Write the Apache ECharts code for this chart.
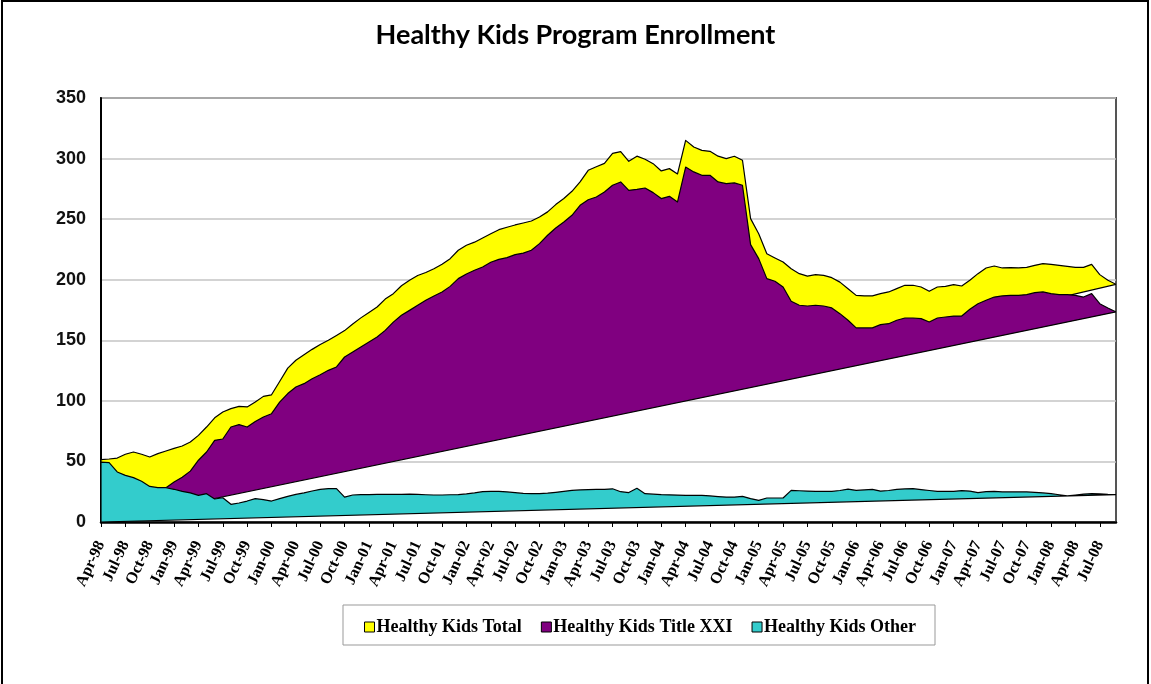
<!DOCTYPE html>
<html>
<head>
<meta charset="utf-8">
<script src="https://cdn.jsdelivr.net/npm/echarts@6/dist/echarts.min.js"></script>
<style>
  html, body { margin: 0; padding: 0; background: #fff; }
  #chart { width: 1151px; height: 684px; }
</style>
</head>
<body>
<div id="chart"></div>
<script>
// ---- Data (monthly, Apr-98 .. Sep-08), enrollment in thousands ----
const monthNames = ['Jan','Feb','Mar','Apr','May','Jun','Jul','Aug','Sep','Oct','Nov','Dec'];
const startYear = 1998, startMonth = 3, monthCount = 126;
const categories = [];
for (let k = 0; k < monthCount; k++) {
  const m = (startMonth + k) % 12;
  const y = startYear + Math.floor((startMonth + k) / 12);
  categories.push(monthNames[m] + '-' + String(y % 100).padStart(2, '0'));
}

const totalValues = [
  51.5, 52, 52.8, 55.9, 57.8, 55.9, 53.7, 56.4, 58.6, 60.8,
  62.7, 66, 71.5, 78.4, 86, 90.8, 93.6, 95.5, 95, 99,
  103.7, 105, 116, 127, 133.5, 138, 142.5, 146.5, 150, 154,
  158, 163.5, 168.5, 173, 177.5, 184, 188.5, 195, 199.5, 203.5,
  206, 209, 212.7, 217.4, 224.3, 228.4, 231, 234.5, 238, 241.3,
  243.3, 245.2, 246.8, 248.5, 251.8, 256, 262, 267, 273, 280.7,
  290.3, 293.3, 296, 304.3, 305.8, 297.7, 302, 299.4, 295.8, 289.8,
  291.7, 287.3, 315, 309.6, 306.8, 306, 302, 300, 301.9, 298.6,
  250.4, 238, 221.5, 218, 214.6, 209, 205, 203, 204.2, 203.6,
  201.7, 198, 192.6, 187.1, 186.6, 186.6, 188.5, 189.9, 192.6, 195.4,
  195.4, 194, 190.4, 194, 194.5, 196, 194.8, 199.5, 205, 209.7,
  211.3, 209.7, 210, 209.7, 210.2, 211.9, 213.3, 212.7, 211.9, 211,
  210.2, 210.2, 212.7, 204.2, 199.5, 196.2
];

const titleXXIValues = [
  3, 6, 9, 12, 15, 18, 22, 25, 28.3, 33,
  37, 42, 51, 57.8, 67.4, 68.5, 78.4, 80.4, 78.4, 83,
  86.7, 89.4, 99, 106, 111.4, 114.2, 118.3, 121.6, 125.2, 128,
  136.2, 140.3, 144.5, 148.6, 152.7, 158.2, 165, 170.6, 174.7, 178.9,
  183, 186.6, 189.9, 194.5, 200.9, 204.7, 207.8, 210.5, 214.4, 216.8,
  218.2, 220.7, 222, 224.3, 229.8, 236.7, 242.7, 247.7, 253.2, 261.4,
  266, 268.3, 272.4, 278, 280.7, 273.8, 274.6, 275.7, 271.9, 267,
  268.8, 264.2, 293, 289, 286.2, 286.2, 280.7, 279.3, 279.9, 278,
  229, 217.4, 200.9, 198.7, 194, 182.2, 178.9, 178.3, 178.9, 178.3,
  176.7, 172, 166.5, 160.2, 160.2, 160.2, 162.9, 163.7, 166.5, 168.4,
  168.4, 167.9, 165.1, 168.4, 169.2, 170, 170, 175.6, 180.2, 183,
  185.7, 186.6, 187.1, 187.1, 187.7, 189.3, 189.9, 188.5, 187.7, 187.7,
  187.1, 185.7, 188.5, 180.2, 176.7, 173.4
];

const otherValues = [
  49.5, 49, 41.3, 38.5, 36.6, 33.6, 29.4, 28.3, 28.3, 27,
  25.3, 24, 22, 23.4, 19, 20, 14.6, 15.7, 17.3, 19.3,
  18.4, 17.3, 19.3, 21.2, 22.8, 24, 25.6, 27, 27.5, 27.5,
  20.6, 22.3, 22.6, 22.6, 22.8, 22.8, 22.8, 22.8, 23, 22.8,
  22.5, 22.3, 22.3, 22.5, 22.6, 23.2, 24, 25, 25.3, 25.3,
  24.8, 24.2, 23.6, 23.4, 23.4, 23.8, 24.5, 25.3, 26.1, 26.5,
  26.7, 26.9, 27, 27.4, 25, 24.3, 27.8, 23.4, 23, 22.6,
  22.4, 22.2, 22, 22, 22, 21.5, 21, 20.6, 20.6, 21.2,
  19.3, 17.9, 19.8, 19.8, 19.8, 26.1, 25.8, 25.5, 25.3, 25.3,
  25.3, 26, 27.2, 26.1, 26.5, 27, 25.5, 26, 27, 27.3,
  27.5, 26.8, 26, 25.3, 25.3, 25.3, 25.9, 25.5, 24.2, 25,
  25.3, 24.8, 24.8, 24.8, 24.8, 24.5, 24, 23.4, 22.5, 21.5,
  22.2, 23, 23.4, 23.2, 22.8, 22.6
];

const seriesNames = ['Healthy Kids Total', 'Healthy Kids Title XXI', 'Healthy Kids Other'];
const seriesColors = ['#FFFF00', '#800080', '#33CCCC'];
const seriesValues = [totalValues, titleXXIValues, otherValues];
const yTicks = { min: 0, max: 350, interval: 50 };

// Excel-style area polygon: starts at baseline of first category, follows the data,
// and closes straight back to the first baseline point.
function makeArea(vals, color) {
  return function (params, api) {
    if (params.dataIndex !== 0) return null;
    const pts = [api.coord([0, 0])];
    for (let i = 0; i < vals.length; i++) pts.push(api.coord([i, vals[i]]));
    return {
      type: 'polygon',
      shape: { points: pts },
      style: { fill: color, stroke: '#000', lineWidth: 1.2, lineJoin: 'round' }
    };
  };
}

const chart = echarts.init(document.getElementById('chart'), null, { renderer: 'canvas' });
chart.setOption({
  animation: false,
  backgroundColor: '#fff',
  title: {
    text: 'Healthy Kids Program Enrollment',
    left: 'center',
    top: 17,
    textStyle: { fontFamily: 'Lato', fontWeight: 'bold', fontSize: 27, color: '#000' }
  },
  graphic: [
    { type: 'rect', shape: { x: 2, y: 1, width: 1146, height: 720 },
      style: { fill: 'none', stroke: '#000', lineWidth: 2 }, silent: true, z: 100 },
    { type: 'rect', shape: { x: 343, y: 605, width: 592, height: 40 },
      style: { fill: '#fff', stroke: '#999', lineWidth: 1 }, silent: true, z: 0 }
  ],
  legend: {
    left: 359,
    top: 613,
    itemWidth: 10,
    itemHeight: 10,
    itemGap: 19,
    icon: 'rect',
    textStyle: { fontFamily: 'Liberation Serif', fontWeight: 'bold', fontSize: 18, color: '#000', padding: [0, 0, 0, -3] },
    data: seriesNames.map((n, k) => ({ name: n, itemStyle: { color: seriesColors[k], borderColor: '#000', borderWidth: 1 } })),
    z: 10
  },
  grid: {
    left: 101, right: 35, top: 98, bottom: 162,
    show: true, borderColor: '#555', borderWidth: 2, backgroundColor: 'transparent'
  },
  xAxis: {
    type: 'category',
    data: categories,
    boundaryGap: false,
    axisLine: { lineStyle: { color: '#000', width: 2.5 } },
    axisTick: { show: true, interval: 2, length: 5, lineStyle: { color: '#000', width: 1 } },
    axisLabel: {
      interval: 2,
      rotate: 65,
      margin: 20,
      fontFamily: 'Liberation Serif',
      fontWeight: 'bold',
      fontSize: 16,
      color: '#000'
    },
    splitLine: { show: false }
  },
  yAxis: {
    type: 'value',
    min: yTicks.min, max: yTicks.max, interval: yTicks.interval,
    axisLine: { show: true, lineStyle: { color: '#000', width: 2 } },
    axisTick: { show: false },
    axisLabel: { fontFamily: 'Liberation Sans', fontWeight: 'bold', fontSize: 18, color: '#111', margin: 15 },
    splitLine: { show: true, lineStyle: { color: '#c4c4c4', width: 1.5 } }
  },
  series: seriesValues.map((vals, k) => ({
    type: 'custom',
    name: seriesNames[k],
    coordinateSystem: 'cartesian2d',
    data: vals.map((v, i) => [i, v]),
    encode: { x: 0, y: 1 },
    itemStyle: { color: seriesColors[k], borderColor: '#000', borderWidth: 1 },
    renderItem: makeArea(vals, seriesColors[k]),
    clip: true,
    silent: true,
    z: 2 + k
  }))
});
</script>
</body>
</html>
